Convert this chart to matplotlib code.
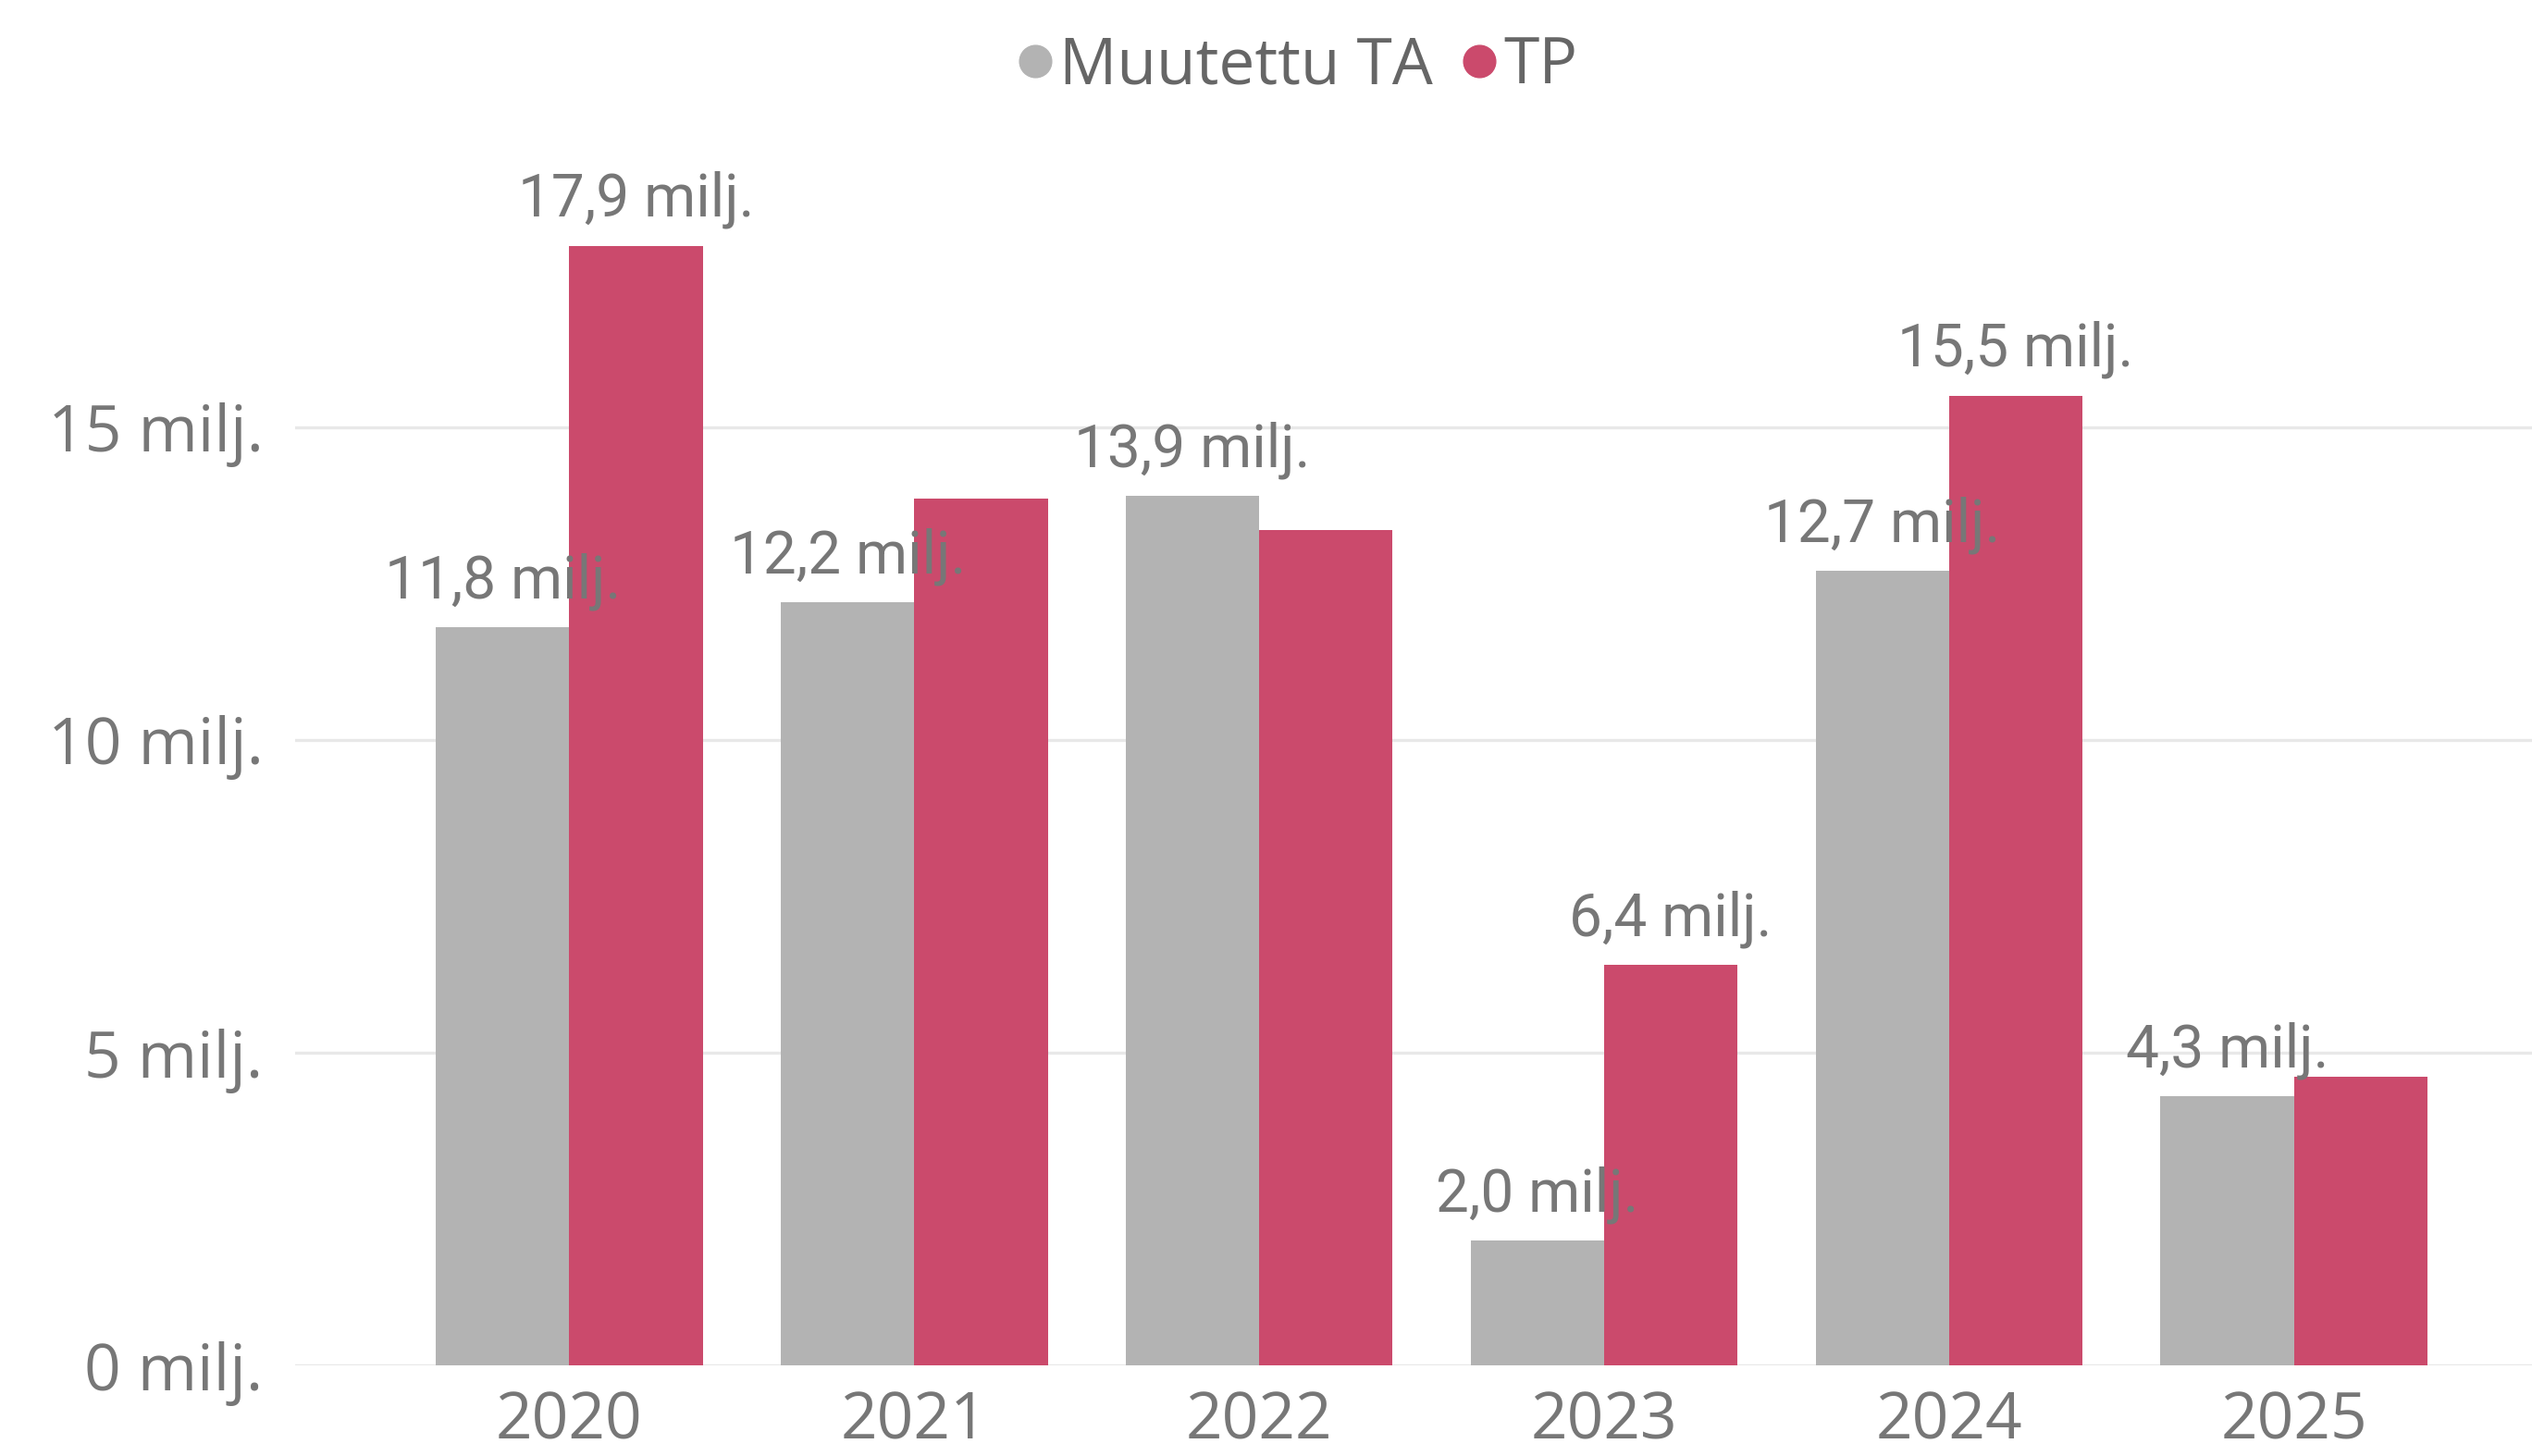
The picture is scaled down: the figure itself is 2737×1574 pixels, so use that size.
# Muutettu TA vs TP by year, grouped bars
import numpy as np
import matplotlib.pyplot as plt
from matplotlib.lines import Line2D

years = ['2020', '2021', '2022', '2023', '2024', '2025']
ta_values = [11.8, 12.2, 13.9, 2.0, 12.7, 4.3]
tp_values = [17.9, 13.85, 13.35, 6.4, 15.5, 4.62]
# only some bars carry a data label in the original
ta_show = [True, True, True, True, True, True]
tp_show = [True, False, False, True, True, False]
y_ticks = [0, 5, 10, 15]

ta_color = '#B3B3B3'
tp_color = '#CB4A6C'
text_gray = '#777777'

def fmt(v):
    return f"{v:.1f}".replace('.', ',') + " milj."

fig = plt.figure(figsize=(27.37, 15.74), dpi=100)
ax = fig.add_axes([0.1167, 0.0621, 0.8833, 0.85])

x = np.arange(len(years))
w = 0.387
ax.bar(x - w / 2, ta_values, w, color=ta_color, zorder=2)
ax.bar(x + w / 2, tp_values, w, color=tp_color, zorder=2)

for i in range(len(years)):
    if ta_show[i]:
        ax.annotate(fmt(ta_values[i]), (x[i] - w / 2, ta_values[i]),
                    xytext=(0, 23), textcoords='offset points',
                    ha='center', va='baseline', fontsize=46,
                    family='Roboto', color=text_gray, zorder=5)
    if tp_show[i]:
        ax.annotate(fmt(tp_values[i]), (x[i] + w / 2, tp_values[i]),
                    xytext=(0, 23), textcoords='offset points',
                    ha='center', va='baseline', fontsize=46,
                    family='Roboto', color=text_gray, zorder=5)

ax.set_xlim(-0.794, 5.69)
ax.set_ylim(0, 19.78)
ax.set_xticks(x)
ax.set_xticklabels(years, fontsize=50, family='Open Sans', color=text_gray)
ax.set_yticks(y_ticks)
ax.set_yticklabels([f"{t} milj." for t in y_ticks], fontsize=50,
                   family='Open Sans', color=text_gray)
ax.tick_params(length=0, axis='y', pad=25)
ax.tick_params(length=0, axis='x', pad=19)
ax.yaxis.grid(True, color='#E8E8E8', linewidth=2.4, zorder=0)
ax.set_axisbelow(True)
for s in ax.spines.values():
    s.set_visible(False)

handles = [
    Line2D([], [], marker='o', linestyle='', markersize=25, color=ta_color),
    Line2D([], [], marker='o', linestyle='', markersize=25, color=tp_color),
]
leg = fig.legend(handles, ['Muutettu TA', 'TP'], loc='center',
                 bbox_to_anchor=(0.513, 0.954), ncol=2, frameon=False,
                 prop={'family': 'Open Sans', 'size': 50},
                 handlelength=0.45, handletextpad=0.15, columnspacing=0.5,
                 borderpad=0)
for t in leg.get_texts():
    t.set_color('#666666')

fig.savefig('out.png', dpi=100)
